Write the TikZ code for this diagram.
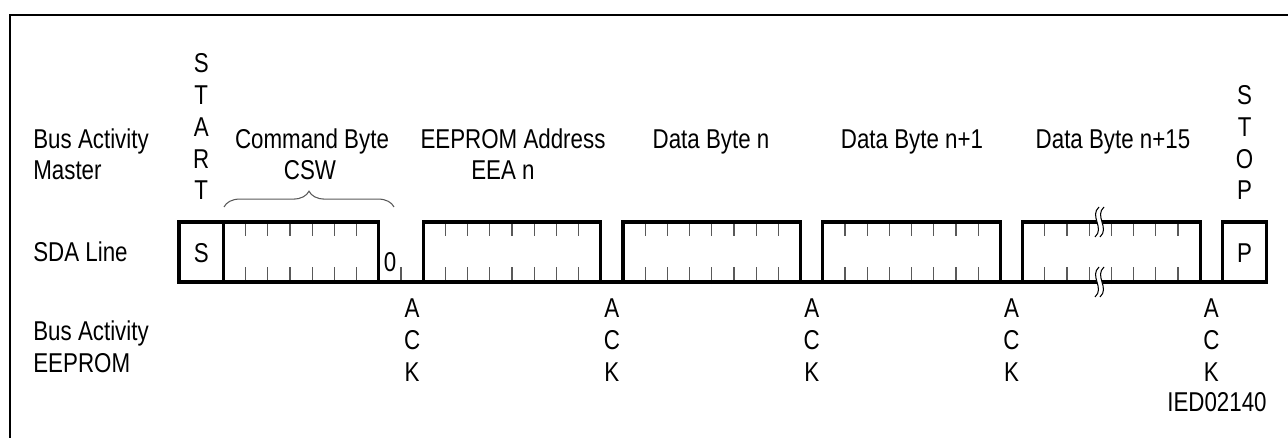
\documentclass[tikz,border=0pt]{standalone}
\usepackage{fontspec}
\setmainfont[FakeStretch=0.82]{Liberation Sans}
\usepackage{tikz}
\usetikzlibrary{decorations.pathreplacing}
\definecolor{tickgray}{rgb}{0.35,0.35,0.35}

\begin{document}
\begin{tikzpicture}[line cap=butt,line join=miter,x=0.02cm,y=0.02cm,
  lbl/.style={font=\fontsize{15.5}{18}\selectfont,inner sep=0pt},
  wave/.style={line width=1.8pt},
  bittick/.style={color=tickgray,line width=0.7pt},
  frame/.style={line width=1.1pt}]
\useasboundingbox (0,0) rectangle (1288,438);
% outer frame
\draw [frame] (10,-5) -- (10,423) -- (1300,423);
% bit ticks
\foreach \k in {1,...,6} {
  \draw [bittick] (223.4+\k*22.2,216) -- ++(0,-14);
  \draw [bittick] (223.4+\k*22.2,156) -- ++(0,15);
}
\draw [bittick] (401,156) -- ++(0,15);
\foreach \b in {423.2,623,822.8,1022.6}
  \foreach \k in {1,...,7} {
    \draw [bittick] (\b+\k*22.2,216) -- ++(0,-14);
    \draw [bittick] (\b+\k*22.2,156) -- ++(0,15);
  }
% SDA line
\draw [wave] (179,156) -- (1266.8,156);
\draw [wave] (179,156) rectangle (223.4,216);
\draw [wave] (223.4,156) rectangle (378.8,216);
\draw [wave] (423.2,156) rectangle (600.8,216);
\draw [wave] (623,156) rectangle (800.6,216);
\draw [wave] (822.8,156) rectangle (1000.4,216);
\draw [wave] (1022.6,156) rectangle (1200.2,216);
\draw [wave] (1222.4,156) rectangle (1266.8,216);
% break marks
\foreach \yc in {216,156} {
  \fill [white] (1099,\yc+15) .. controls (1089,\yc+6) and (1105,\yc-6) .. (1095,\yc-15)
    -- (1100,\yc-15) .. controls (1110,\yc-6) and (1094,\yc+6) .. (1104,\yc+15) -- cycle;
  \draw [line width=0.6pt] (1099,\yc+15) .. controls (1089,\yc+6) and (1105,\yc-6) .. (1095,\yc-15);
  \draw [line width=0.6pt] (1104,\yc+15) .. controls (1094,\yc+6) and (1110,\yc-6) .. (1100,\yc-15);
}
% brace over command byte
\draw [decorate,decoration={brace,amplitude=9},color=tickgray,line width=0.6pt] (224,231) -- (394,231);
% row labels
\node [lbl,anchor=base west] (masterA) at (33,289) {Bus Activity};
\node [lbl,anchor=base west] (masterB) at (33,258) {Master};
\node [lbl,anchor=base west] (sda) at (33,176) {SDA Line};
\node [lbl,anchor=base west] (eepromA) at (33,97) {Bus Activity};
\node [lbl,anchor=base west] (eepromB) at (33,65) {EEPROM};
% field labels
\node [lbl,anchor=base] (cmdA) at (312,289) {Command Byte};
\node [lbl,anchor=base] (cmdB) at (310,258) {CSW};
\node [lbl,anchor=base] (eeaA) at (513,289) {EEPROM Address};
\node [lbl,anchor=base] (eeaB) at (503,258) {EEA n};
\node [lbl,anchor=base] (dataA) at (711,289) {Data Byte n};
\node [lbl,anchor=base] (dataB) at (912,289) {Data Byte n+1};
\node [lbl,anchor=base] (dataC) at (1113,289) {Data Byte n+15};
% bits in the line
\node [lbl,anchor=base] (sbit) at (201.2,175) {S};
\node [lbl,anchor=base] (pbit) at (1244.6,175) {P};
\node [lbl,anchor=base] (zbit) at (390,166) {0};
% start / stop
\foreach \l [count=\i] in {S,T,A,R,T}
  \node [lbl,anchor=base] (start\i) at (201.2,365-31.75*\i+31.75) {\l};
\foreach \l [count=\i] in {S,T,O,P}
  \node [lbl,anchor=base] (stop\i) at (1244.6,333.25-31.75*\i+31.75) {\l};
% acknowledge
\foreach \x [count=\j] in {412.1,611.9,811.7,1011.5,1211.3}
  \foreach \l [count=\i] in {A,C,K}
    \node [lbl,anchor=base] (ack\j\i) at (\x,120-32*\i+32) {\l};
\node [lbl,anchor=base east] (fig) at (1267,26) {IED02140};
\end{tikzpicture}
\end{document}
